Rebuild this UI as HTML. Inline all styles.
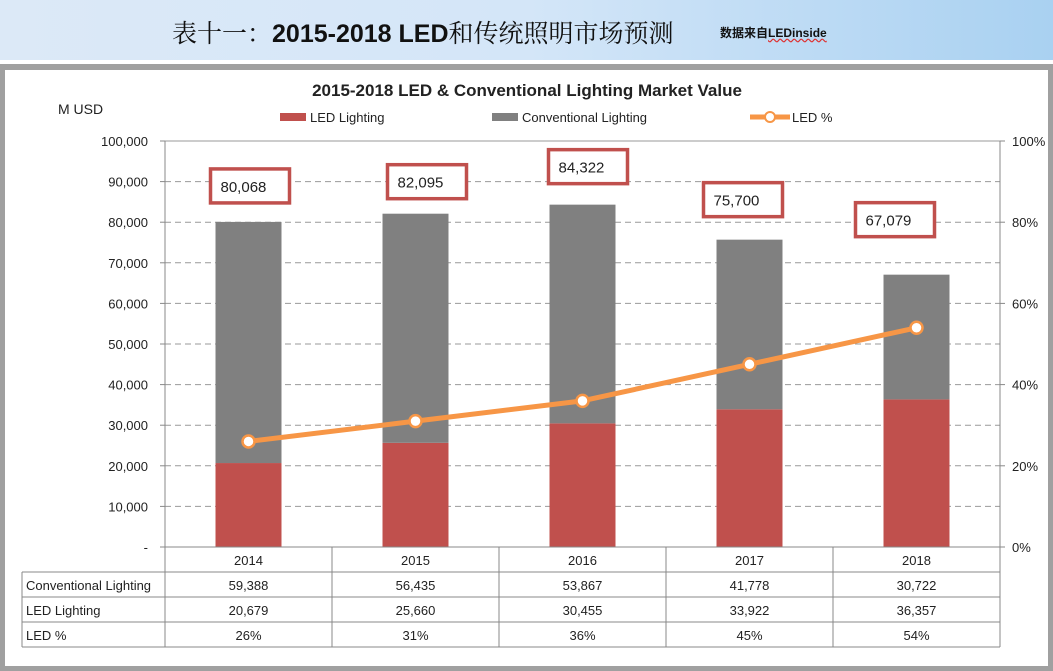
<!DOCTYPE html>
<html><head><meta charset="utf-8">
<style>
body{margin:0;width:1053px;height:670px;overflow:hidden;background:#fff;font-family:"Liberation Sans","Noto Sans CJK SC",sans-serif;}
#banner{position:absolute;left:0;top:0;width:1053px;height:60px;background:linear-gradient(90deg,#dce9f7 0%,#d4e6f8 50%,#a9d1f1 100%);}
#title{position:absolute;left:172px;top:14px;font-size:25px;color:#111;white-space:nowrap;font-family:"Liberation Sans","Noto Serif CJK SC",sans-serif;}
#title b{font-family:"Liberation Sans",sans-serif;}
#src{position:absolute;left:720px;top:24px;font-size:12px;font-weight:bold;color:#111;}
#frame{position:absolute;left:0;top:64px;width:1043px;height:596px;border:5px solid #a0a0a0;border-top-width:6px;background:#fff;}
</style></head><body>
<div id="banner">
<div id="title">表十一：<b>2015-2018 LED</b>和传统照明市场预测</div>
<div id="src">数据来自<span style="text-decoration:underline wavy #d33">LEDinside</span></div>
</div>
<div id="frame"></div>
<svg id="chart" width="1053" height="670" style="position:absolute;left:0;top:0"></svg>
<script>
const categories=["2014","2015","2016","2017","2018"];
const conventional=[59388,56435,53867,41778,30722];
const led=[20679,25660,30455,33922,36357];
const ledPct=[26,31,36,45,54];
const totals=[80068,82095,84322,75700,67079];
const yTicks=[0,10000,20000,30000,40000,50000,60000,70000,80000,90000,100000];
const pTicks=[0,20,40,60,80,100];

const NS="http://www.w3.org/2000/svg";
const svg=document.getElementById('chart');
const X0=165,X1=1000,Y0=547,Y1=141,YMAX=100000;
const band=(X1-X0)/categories.length;
const xc=i=>X0+band*(i+0.5);
const y=v=>Y0-(v/YMAX)*(Y0-Y1);
const yp=p=>Y0-(p/100)*(Y0-Y1);
function mk(t,a,txt){const e=document.createElementNS(NS,t);for(const k in a)e.setAttribute(k,a[k]);if(txt!==undefined)e.textContent=txt;svg.appendChild(e);return e;}
const F='"Liberation Sans",sans-serif';

let e=mk('text',{x:527,y:96,'text-anchor':'middle','font-size':17,'font-weight':'bold','font-family':F,fill:'#222'},'2015-2018 LED & Conventional Lighting Market Value');

e=mk('text',{x:58,y:114,'font-size':14,'font-family':F,fill:'#222'},'M USD');


const leg=[['LED Lighting','#c0504d',280],['Conventional Lighting','#808080',492]];
leg.forEach(l=>{
 e=mk('rect',{x:l[2],y:113,width:26,height:8,fill:l[1]});
 
 e=mk('text',{x:l[2]+30,y:122,'font-size':13,'font-family':F,fill:'#222'},l[0]);
 
});
e=mk('line',{x1:750,y1:117,x2:790,y2:117,stroke:'#f79646','stroke-width':5});

e=mk('circle',{cx:770,cy:117,r:5,fill:'#fff',stroke:'#f79646','stroke-width':2});

e=mk('text',{x:792,y:122,'font-size':13,'font-family':F,fill:'#222'},'LED %');


yTicks.forEach(t=>{
 if(t>0){e=mk('line',{x1:X0,x2:X1,y1:y(t),y2:y(t),stroke:t===YMAX?'#999':'#999','stroke-width':1,'stroke-dasharray':t===YMAX?'':'6,4'});
 }
 e=mk('line',{x1:X0-5,x2:X0,y1:y(t),y2:y(t),stroke:'#888'});
 
 e=mk('text',{x:X0-17,y:y(t)+5,'text-anchor':'end','font-size':13,'font-family':F,fill:'#222'},t===0?'-':t.toLocaleString('en-US'));
 
});
pTicks.forEach(p=>{
 e=mk('line',{x1:X1,x2:X1+5,y1:yp(p),y2:yp(p),stroke:'#888'});
 
 e=mk('text',{x:X1+12,y:yp(p)+5,'font-size':13,'font-family':F,fill:'#222'},p+'%');
 
});
e=mk('line',{x1:X0,x2:X0,y1:Y1,y2:Y0,stroke:'#888'});
e=mk('line',{x1:X1,x2:X1,y1:Y1,y2:Y0,stroke:'#888'});

const bw=66;
categories.forEach((c,i)=>{
 e=mk('rect',{x:xc(i)-bw/2,y:y(led[i]),width:bw,height:Y0-y(led[i]),fill:'#c0504d'});
 
 e=mk('rect',{x:xc(i)-bw/2,y:y(led[i]+conventional[i]),width:bw,height:y(led[i])-y(led[i]+conventional[i]),fill:'#808080'});
 
});
e=mk('line',{x1:X0,x2:X1,y1:Y0,y2:Y0,stroke:'#888'});

e=mk('polyline',{points:ledPct.map((p,i)=>xc(i)+','+yp(p)).join(' '),fill:'none',stroke:'#f79646','stroke-width':5,'stroke-linejoin':'round'});

ledPct.forEach((p,i)=>{
 e=mk('circle',{cx:xc(i),cy:yp(p),r:6,fill:'#fff',stroke:'#f79646','stroke-width':2.5});
 
});

const boxOff=[[-38,-53],[-28,-49],[-34,-55],[-46,-57],[-61,-72]];
totals.forEach((t,i)=>{
 const bx=xc(i)+boxOff[i][0], by=y(t)+boxOff[i][1];
 e=mk('rect',{x:bx,y:by,width:79,height:34,fill:'#fff',stroke:'#c0504d','stroke-width':3.5});
 
 e=mk('text',{x:bx+10,y:by+23,'font-size':15,'font-family':F,fill:'#222'},t.toLocaleString('en-US'));
 
});

const rows=[['Conventional Lighting',conventional.map(v=>v.toLocaleString('en-US'))],['LED Lighting',led.map(v=>v.toLocaleString('en-US'))],['LED %',ledPct.map(v=>v+'%')]];
const TL=22,RH=25,TY=Y0;
function ln(a,b,c,d){e=mk('line',{x1:a,y1:b,x2:c,y2:d,stroke:'#888'});}
for(let k=0;k<=categories.length;k++)ln(X0+band*k,TY,X0+band*k,TY+RH*4);
ln(TL,TY+RH,TL,TY+RH*4);
for(let r=1;r<=4;r++)ln(TL,TY+RH*r,X1,TY+RH*r);
categories.forEach((c,i)=>{
 e=mk('text',{x:xc(i),y:TY+18,'text-anchor':'middle','font-size':13,'font-family':F,fill:'#222'},c);
 
});
rows.forEach((r,ri)=>{
 const ty=TY+RH*(ri+1)+18;
 e=mk('text',{x:TL+4,y:ty,'font-size':13,'font-family':F,fill:'#222'},r[0]);
 
 r[1].forEach((v,i)=>{
  e=mk('text',{x:xc(i),y:ty,'text-anchor':'middle','font-size':13,'font-family':F,fill:'#222'},v);
  
 });
});
</script>
</body></html>
